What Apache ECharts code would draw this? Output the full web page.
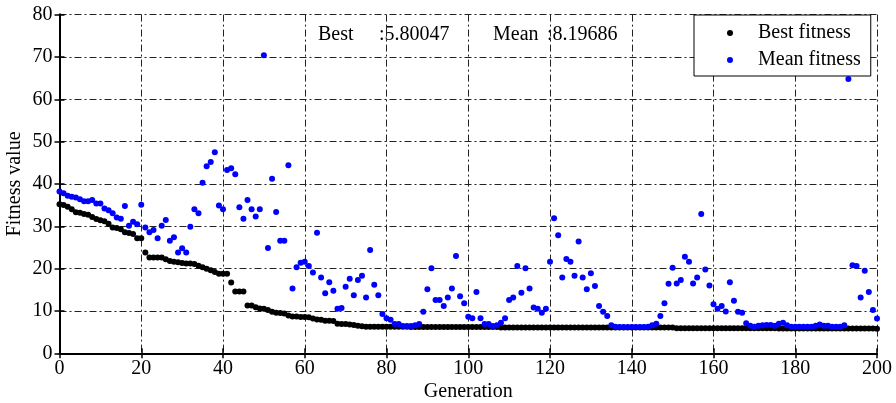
<!DOCTYPE html>
<html>
<head>
<meta charset="utf-8">
<script src="https://cdn.jsdelivr.net/npm/echarts@6/dist/echarts.min.js"></script>
<style>html,body{margin:0;padding:0;background:#fff}#chart{width:896px;height:403px}</style>
</head>
<body>
<div id="chart"></div>
<script>
// Generation axis ticks
var xTicks = [0, 20, 40, 60, 80, 100, 120, 140, 160, 180, 200];
var yTicks = [0, 10, 20, 30, 40, 50, 60, 70, 80];

// Best fitness per generation (0..200)
var bestFitness = [
  35.2, 35.0, 34.6, 34.0, 33.3, 33.2, 32.9, 32.7, 32.2, 31.7,
  31.4, 31.2, 30.6, 29.7, 29.6, 29.3, 28.6, 28.4, 28.2, 27.2,
  27.2, 23.8, 22.6, 22.6, 22.6, 22.6, 22.2, 21.8, 21.6, 21.5,
  21.3, 21.2, 21.2, 21.1, 20.7, 20.3, 20.0, 19.6, 19.2, 18.8,
  18.8, 18.8, 16.7, 14.6, 14.6, 14.6, 11.3, 11.3, 10.9, 10.6,
  10.5, 10.2, 9.8, 9.6, 9.5, 9.4, 8.9, 8.7, 8.7, 8.6,
  8.6, 8.5, 8.2, 8.0, 7.9, 7.7, 7.7, 7.6, 7.0, 6.9,
  6.9, 6.8, 6.7, 6.5, 6.4, 6.3, 6.3, 6.3, 6.3, 6.3,
  6.3, 6.3, 6.3, 6.3, 6.3, 6.3, 6.2, 6.2, 6.2, 6.2,
  6.2, 6.2, 6.2, 6.2, 6.2, 6.2, 6.2, 6.2, 6.2, 6.2,
  6.2, 6.2, 6.2, 6.2, 6.2, 6.2, 6.2, 6.2, 6.1, 6.1,
  6.1, 6.1, 6.1, 6.1, 6.1, 6.1, 6.1, 6.1, 6.1, 6.1,
  6.1, 6.1, 6.1, 6.1, 6.1, 6.1, 6.1, 6.1, 6.1, 6.1,
  6.1, 6.1, 6.1, 6.1, 6.1, 6.1, 6.1, 6.1, 6.1, 6.1,
  6.1, 6.1, 6.1, 6.1, 6.1, 6.1, 6.1, 6.1, 6.1, 6.1,
  6.1, 5.9, 5.9, 5.9, 5.9, 5.9, 5.9, 5.9, 5.9, 5.9,
  5.9, 5.9, 5.9, 5.9, 5.9, 5.9, 5.9, 5.9, 5.9, 5.9,
  5.9, 5.9, 5.9, 5.9, 5.9, 5.9, 5.85, 5.85, 5.85, 5.85,
  5.85, 5.85, 5.85, 5.85, 5.85, 5.85, 5.85, 5.85, 5.85, 5.85,
  5.85, 5.85, 5.85, 5.85, 5.85, 5.85, 5.85, 5.85, 5.85, 5.85,
  5.80047
];

// Mean fitness per generation (0..200)
var meanFitness = [
  38.2, 37.8, 37.2, 37.0, 36.8, 36.4, 35.9, 35.9, 36.2, 35.4,
  35.4, 34.2, 33.8, 33.1, 32.1, 31.8, 34.8, 30.1, 31.1, 30.5,
  35.1, 29.7, 28.6, 29.1, 27.2, 30.1, 31.5, 26.6, 27.4, 23.8,
  24.8, 23.8, 29.9, 34.0, 33.1, 40.3, 44.2, 45.2, 47.5, 34.9,
  34.0, 43.3, 43.7, 42.3, 34.5, 31.8, 36.2, 34.0, 32.3, 34.0,
  70.4, 24.9, 41.2, 33.4, 26.6, 26.6, 44.4, 15.3, 20.3, 21.4,
  21.6, 20.6, 19.1, 28.5, 17.9, 14.2, 16.8, 14.8, 10.5, 10.7,
  15.7, 17.6, 13.7, 17.3, 18.3, 13.2, 24.4, 16.2, 13.7, 9.3,
  8.3, 7.9, 6.9, 6.9, 6.45, 6.45, 6.45, 6.6, 6.9, 9.8,
  15.1, 20.1, 12.6, 12.6, 11.2, 13.2, 15.3, 23.0, 13.5, 11.8,
  8.65, 8.3, 14.5, 8.3, 6.9, 6.9, 6.45, 6.6, 7.2, 8.3,
  12.6, 13.2, 20.6, 14.3, 20.1, 15.3, 10.8, 10.5, 9.6, 10.5,
  21.6, 31.9, 27.9, 17.9, 22.3, 21.6, 18.3, 26.4, 17.9, 15.1,
  18.9, 15.9, 11.2, 9.8, 8.8, 6.6, 6.3, 6.2, 6.2, 6.2,
  6.2, 6.2, 6.2, 6.2, 6.3, 6.6, 7.0, 8.8, 11.8, 16.4,
  20.2, 16.5, 17.3, 22.8, 21.6, 16.5, 17.9, 32.9, 19.8, 16.0,
  11.6, 10.5, 11.2, 9.9, 16.8, 12.4, 9.8, 9.6, 7.1, 6.5,
  6.3, 6.5, 6.6, 6.7, 6.7, 6.5, 7.0, 7.2, 6.6, 6.3,
  6.3, 6.3, 6.3, 6.3, 6.3, 6.5, 6.8, 6.5, 6.5, 6.3,
  6.3, 6.3, 6.6, 64.8, 20.8, 20.6, 13.2, 19.5, 14.5, 10.2,
  8.19686
];

var seriesNames = ['Best fitness', 'Mean fitness'];
var bestLabel = 'Best', bestValueText = ':5.80047';
var meanLabel = 'Mean', meanValueText = ':8.19686';
var xName = 'Generation', yName = 'Fitness value';

function pairs(arr) { return arr.map(function (v, i) { return [i, v]; }); }

var FONT = "'Liberation Serif', 'Times New Roman', serif";
var gridLine = { show: true, lineStyle: { color: '#222', width: 1, type: [7, 3, 2, 3] } };
var axisLine = { show: true, lineStyle: { color: '#000', width: 2 } };
var tick = { show: true, inside: true, length: 5, lineStyle: { color: '#000', width: 1.5 } };

var chart = echarts.init(document.getElementById('chart'), null, { renderer: 'canvas' });
chart.setOption({
  animation: false,
  backgroundColor: '#fff',
  grid: { show: false, left: 59.5, right: 19, top: 14.6, bottom: 49.7, containLabel: false, outerBoundsMode: 'none' },
  legend: {
    orient: 'vertical',
    left: 694, top: 15,
    data: seriesNames,
    itemWidth: 46, itemHeight: 6, itemGap: 7,
    padding: [8, 10, 6, 33],
    borderColor: '#000', borderWidth: 1,
    backgroundColor: '#fff',
    textStyle: { fontFamily: FONT, fontSize: 20, color: '#000' }
  },
  xAxis: [{
    type: 'value', min: 0, max: 200, interval: 20,
    name: xName, nameLocation: 'middle', nameGap: 28, nameMoveOverlap: false,
    nameTextStyle: { fontFamily: FONT, fontSize: 20, color: '#000' },
    axisLine: axisLine, axisTick: tick,
    axisLabel: { fontFamily: FONT, fontSize: 20, color: '#000', margin: 5 },
    splitLine: gridLine
  }, {
    type: 'value', min: 0, max: 200, interval: 20, position: 'top',
    axisLine: axisLine, axisTick: tick, axisLabel: { show: false }, splitLine: { show: false }
  }],
  yAxis: [{
    type: 'value', min: 0, max: 80, interval: 10,
    name: yName, nameLocation: 'middle', nameGap: 35, nameMoveOverlap: false,
    nameTextStyle: { fontFamily: FONT, fontSize: 20, color: '#000' },
    axisLine: axisLine, axisTick: tick,
    axisLabel: { fontFamily: FONT, fontSize: 20, color: '#000', margin: 7 },
    splitLine: gridLine
  }, {
    type: 'value', min: 0, max: 80, interval: 10, position: 'right',
    axisLine: axisLine, axisTick: tick, axisLabel: { show: false }, splitLine: { show: false }
  }],
  graphic: [
    { type: 'text', left: 318, top: 25, style: { text: bestLabel, font: '20px ' + FONT, fill: '#000' } },
    { type: 'text', left: 379, top: 25, style: { text: bestValueText, font: '20px ' + FONT, fill: '#000' } },
    { type: 'text', left: 493, top: 25, style: { text: meanLabel, font: '20px ' + FONT, fill: '#000' } },
    { type: 'text', left: 547, top: 25, style: { text: meanValueText, font: '20px ' + FONT, fill: '#000' } }
  ],
  series: [{
    name: seriesNames[0], type: 'scatter', symbol: 'circle', symbolSize: 6,
    itemStyle: { color: '#000', opacity: 1 }, data: pairs(bestFitness), z: 3
  }, {
    name: seriesNames[1], type: 'scatter', symbol: 'circle', symbolSize: 6,
    itemStyle: { color: '#0000ff', opacity: 1 }, data: pairs(meanFitness), z: 4
  }]
});
</script>
</body>
</html>
